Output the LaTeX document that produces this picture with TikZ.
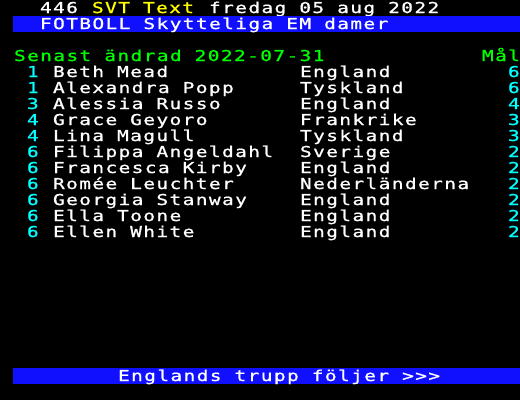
\documentclass[tikz,border=0pt]{standalone}
\usepackage{fontspec}
\newfontfamily\ttxfont[FakeStretch=1.3,FakeBold=1,LetterSpace=9.2]{DejaVu Sans Mono}
\newcommand\ttxset{\ttxfont\fontsize{15pt}{15pt}\selectfont\spaceskip=13pt\relax}
\definecolor{ttblue}{RGB}{16,16,255}
\definecolor{ttcyan}{RGB}{0,255,255}
\definecolor{ttgreen}{RGB}{0,255,0}
\definecolor{ttyellow}{RGB}{255,255,0}
\begin{document}
\begin{tikzpicture}[x=1pt,y=-1pt,
  txt/.style={anchor=base west, inner sep=0pt, outer sep=0pt, text=white,
    font=\ttxset},
  band/.style={fill=ttblue}]
\useasboundingbox (0,0) rectangle (520,400);
\fill[black] (0,0) rectangle (520,400);
% header row 0
\node[txt] (page) at (40,13) {446};
\node[txt, text=ttyellow] (svt) at (92,13) {SVT Text};
\node[txt] (date) at (209,13) {fredag 05 aug 2022};
% title band row 1
\fill[band] (13,16) rectangle (520,32);
\node[txt] (title) at (40,29) {FOTBOLL Skytteliga EM damer};
% row 3
\node[txt, text=ttgreen] (upd) at (14,61) {Senast ändrad 2022-07-31};
\node[txt, text=ttgreen] (mal) at (482,61) {Mål};
% players
\foreach \r/\n/\c/\g [count=\i from 0] in {
  1/Beth Mead/England/6,
  1/Alexandra Popp/Tyskland/6,
  3/Alessia Russo/England/4,
  4/Grace Geyoro/Frankrike/3,
  4/Lina Magull/Tyskland/3,
  6/Filippa Angeldahl/Sverige/2,
  6/Francesca Kirby/England/2,
  6/Romée Leuchter/Nederländerna/2,
  6/Georgia Stanway/England/2,
  6/Ella Toone/England/2,
  6/Ellen White/England/2}{
  \node[txt, text=ttcyan] (rank\i) at (27,77+16*\i) {\r};
  \node[txt] (name\i) at (53,77+16*\i) {\n};
  \node[txt] (land\i) at (300,77+16*\i) {\c};
  \node[txt, text=ttcyan] (goal\i) at (508,77+16*\i) {\g};
}
% bottom band row 23
\fill[band] (13,368) rectangle (520,384);
\node[txt] (foot) at (118,381) {Englands trupp följer >>>};
\end{tikzpicture}
\end{document}
